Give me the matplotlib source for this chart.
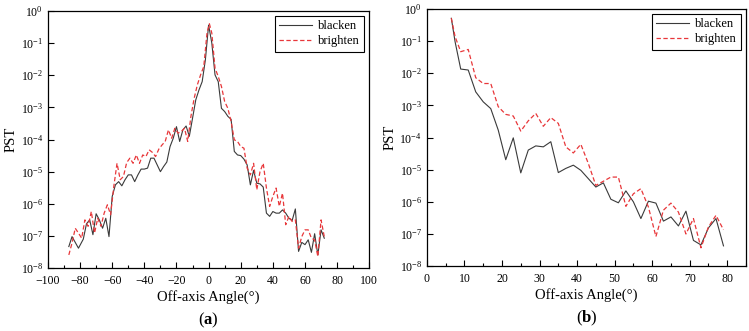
"""PST vs off-axis angle for blackened and brightened surfaces, panels (a) and (b)."""

import numpy as np
import matplotlib
matplotlib.use("Agg")
import matplotlib.pyplot as plt
from matplotlib.ticker import LogLocator, MultipleLocator, NullLocator

plt.rcParams["font.family"] = ["Liberation Serif", "DejaVu Serif"]
plt.rcParams["mathtext.fontset"] = "custom"
plt.rcParams["mathtext.rm"] = "Liberation Serif"
plt.rcParams["mathtext.it"] = "Liberation Serif:italic"
plt.rcParams["mathtext.bf"] = "Liberation Serif:bold"

# ---- panel (a): exponents (log10 PST) ----
angle_a_black = [-87, -85, -81, -78, -76, -74, -72, -70, -68, -66, -64, -62, -60,
                 -58, -56, -54, -52, -50, -48, -46, -44, -42, -40, -38, -36, -34,
                 -32, -30, -28, -26, -24, -22, -20, -18, -16, -14, -12, -10, -8,
                 -6, -4, -2, 0, 2, 4, 6, 8, 10, 12, 14, 16, 18, 20, 22, 24, 26,
                 28, 30, 32, 34, 36, 38, 40, 42, 44, 46, 48, 50, 52, 54, 56, 58,
                 60, 62, 64, 66, 68, 70, 72]
log_a_black = [-7.33, -7.02, -7.38, -7.1, -6.62, -6.5, -6.96, -6.31, -6.5, -6.76,
               -6.45, -7.02, -5.77, -5.41, -5.31, -5.44, -5.25, -5.1, -5.1, -5.31,
               -5.1, -4.92, -4.92, -4.89, -4.58, -4.58, -4.79, -5.0, -4.84, -4.7,
               -4.22, -3.96, -3.6, -4.06, -3.7, -3.58, -3.9, -3.34, -2.77, -2.46,
               -2.2, -1.52, -0.44, -1.0, -1.99, -2.2, -3.03, -3.13, -3.28, -3.37,
               -4.37, -4.48, -4.5, -4.61, -4.79, -5.41, -4.96, -5.36, -5.38, -5.48,
               -6.29, -6.39, -6.24, -6.29, -6.29, -6.19, -6.29, -6.45, -6.52, -6.16,
               -7.48, -7.2, -7.27, -7.12, -7.51, -6.93, -7.59, -6.81, -7.07]

angle_a_red = [-87, -85, -83, -81, -79, -77, -75, -73, -71, -69, -67, -65, -63,
               -61, -59, -57, -55, -53, -51, -49, -47, -45, -43, -41, -39, -37,
               -35, -33, -31, -29, -27, -25, -23, -21, -19, -17, -15, -13, -11,
               -9, -7, -5, -3, -1, 0.5, 2, 4, 6, 8, 10, 12, 14, 16, 18, 20, 22,
               24, 26, 28, 30, 32, 34, 36, 38, 40, 42, 44, 46, 48, 50, 52, 54, 56,
               58, 60, 62, 64, 66, 68, 70, 72]
log_a_red = [-7.59, -7.22, -6.76, -6.91, -7.07, -6.5, -6.7, -6.24, -6.91, -6.45,
             -6.7, -6.29, -6.03, -6.34, -5.46, -4.74, -5.25, -5.15, -4.72, -4.58,
             -4.74, -4.48, -4.74, -4.48, -4.53, -4.32, -4.4, -4.53, -4.3, -4.17,
             -4.06, -3.7, -3.96, -3.65, -3.8, -3.75, -3.65, -4.06, -3.28, -2.72,
             -2.3, -1.99, -1.73, -0.69, -0.4, -0.69, -1.78, -2.04, -2.35, -2.82,
             -3.03, -3.44, -4.01, -4.06, -4.22, -4.27, -4.89, -5.1, -4.74, -5.56,
             -5.0, -4.74, -5.51, -6.08, -5.77, -5.51, -6.08, -5.67, -6.65, -6.39,
             -6.55, -6.5, -7.38, -7.02, -6.81, -6.81, -7.07, -7.12, -7.64, -6.5,
             -7.02]

# ---- panel (b) ----
angle_b = [6.5, 7.5, 9, 11, 13, 15, 17, 19, 21, 23, 25, 27, 29, 31, 33, 35, 37,
           39, 41, 43, 45, 47, 49, 51, 53, 55, 57, 59, 61, 63, 65, 67, 69, 71,
           73, 75, 77, 79]
log_b_black = [-0.29, -1.02, -1.87, -1.9, -2.58, -2.89, -3.1, -3.77, -4.69, -4.01,
               -5.1, -4.39, -4.26, -4.29, -4.13, -5.09, -4.96, -4.86, -5.02, -5.28,
               -5.54, -5.41, -5.92, -6.03, -5.66, -6.0, -6.52, -5.98, -6.04, -6.6,
               -6.47, -6.75, -6.29, -7.2, -7.34, -6.81, -6.52, -7.37]
log_b_red = [-0.29, -0.86, -1.33, -1.26, -2.14, -2.32, -2.32, -3.04, -3.28, -3.33,
             -3.8, -3.48, -3.25, -3.65, -3.38, -3.56, -4.29, -4.48, -4.21, -4.81,
             -5.49, -5.36, -5.23, -5.23, -6.14, -5.75, -5.59, -6.16, -7.08, -6.26,
             -6.04, -6.32, -7.0, -6.52, -7.43, -6.78, -6.42, -6.87]

labels = ["blacken", "brighten"]
black_col = "#3a3a3a"
red_col = "#e8373a"


def style_axes(ax, xlim, xmajor):
    ax.set_yscale("log")
    ax.set_ylim(1e-8, 1)
    ax.set_xlim(*xlim)
    ax.xaxis.set_major_locator(MultipleLocator(xmajor))
    ax.xaxis.set_minor_locator(MultipleLocator(xmajor / 2))
    ax.yaxis.set_major_locator(LogLocator(base=10, numticks=20))
    ax.yaxis.set_minor_locator(NullLocator())
    ax.tick_params(axis="both", which="both", direction="in", top=False,
                   right=False, labelsize=8.5)
    ax.tick_params(axis="x", pad=5)
    ax.tick_params(which="major", length=4, width=0.8)
    ax.tick_params(which="minor", length=2.5, width=0.8)
    ax.set_xlabel("Off-axis Angle(°)", fontsize=10.5, labelpad=2)
    ax.set_ylabel("PST", fontsize=10.5, labelpad=2)
    for sp in ax.spines.values():
        sp.set_linewidth(0.9)
    leg = ax.legend(loc="upper right", fontsize=9, fancybox=False,
                    edgecolor="black", framealpha=1, handlelength=2.6,
                    borderpad=0.35, labelspacing=0.25, handletextpad=0.5,
                    borderaxespad=0.4)
    leg.get_frame().set_linewidth(0.8)


fig = plt.figure(figsize=(7.49, 3.31), dpi=100)
ax_a = fig.add_axes([0.064, 0.190, 0.429, 0.777])
ax_b = fig.add_axes([0.570, 0.196, 0.426, 0.777])

ax_a.plot(angle_a_black, 10 ** np.array(log_a_black), color=black_col, lw=0.8,
          label=labels[0])
ax_a.plot(angle_a_red, 10 ** np.array(log_a_red), color=red_col, lw=0.9,
          ls=(0, (3.5, 2)), label=labels[1])
style_axes(ax_a, (-100, 100), 20)

ax_b.plot(angle_b, 10 ** np.array(log_b_black), color=black_col, lw=0.8,
          label=labels[0])
ax_b.plot(angle_b, 10 ** np.array(log_b_red), color=red_col, lw=0.9,
          ls=(0, (3.5, 2)), label=labels[1])
style_axes(ax_b, (0, 85), 10)

fig.text(0.278, 0.02, r"($\mathbf{a}$)", ha="center", fontsize=12)
fig.text(0.784, 0.025, r"($\mathbf{b}$)", ha="center", fontsize=12)

plt.savefig("out.png", dpi=100)
plt.close()
